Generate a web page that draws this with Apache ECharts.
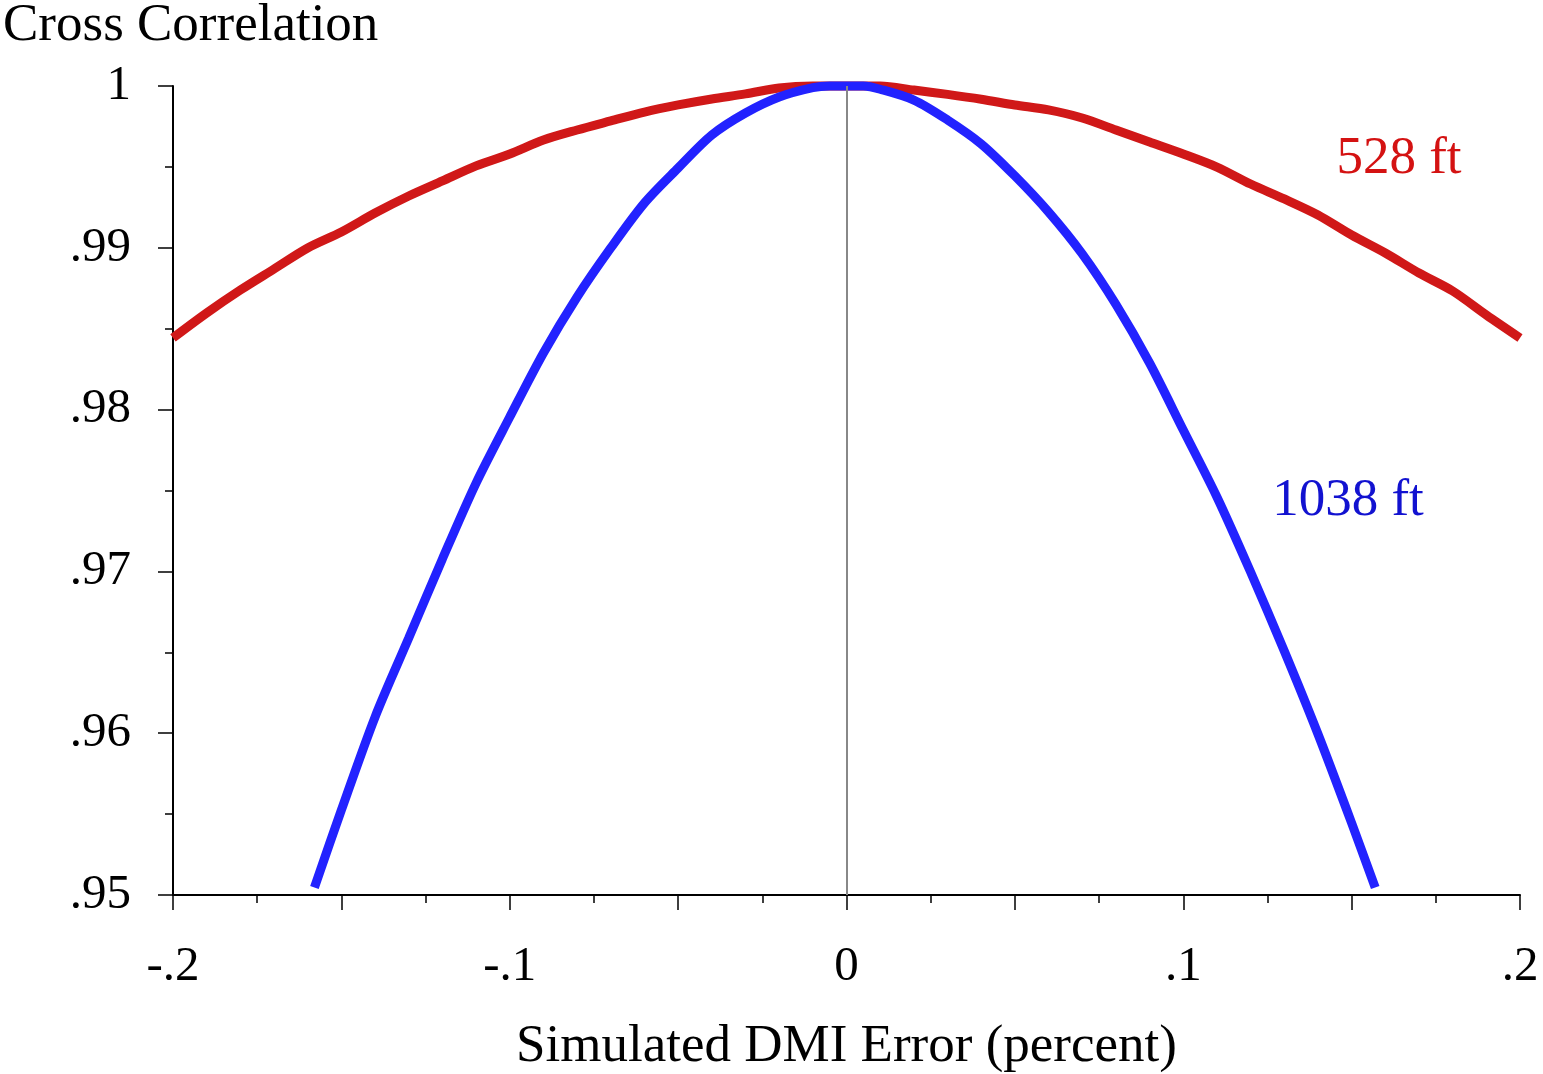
<!DOCTYPE html>
<html>
<head>
<meta charset="utf-8">
<script src="https://cdn.jsdelivr.net/npm/echarts@6/dist/echarts.min.js"></script>
<style>
html,body{margin:0;padding:0;background:#fff;}
#chart{width:1543px;height:1074px;}
</style>
</head>
<body>
<div id="chart"></div>
<script>
// ---- data ----
const xRed = [-0.20,-0.19,-0.18,-0.17,-0.16,-0.15,-0.14,-0.13,-0.12,-0.11,-0.10,-0.09,-0.08,-0.07,-0.06,-0.05,-0.04,-0.03,-0.02,-0.01,
  0.00,0.01,0.02,0.03,0.04,0.05,0.06,0.07,0.08,0.09,0.10,0.11,0.12,0.13,0.14,0.15,0.16,0.17,0.18,0.19,0.20];
const yRed = [0.98443,0.98597,0.98739,0.98869,0.98999,0.99098,0.99215,0.99320,0.99413,0.99506,0.99580,0.99666,0.99728,0.99784,0.99839,0.99883,0.99920,0.99951,0.99988,1.00000,
  1.00000,1.00000,0.99975,0.99948,0.99918,0.99883,0.99852,0.99802,0.99728,0.99654,0.99580,0.99499,0.99394,0.99302,0.99203,0.99079,0.98968,0.98844,0.98733,0.98585,0.98443];
const xBlue = [-0.158,-0.15,-0.14,-0.13,-0.12,-0.11,-0.10,-0.09,-0.08,-0.07,-0.06,-0.05,-0.04,-0.03,-0.02,-0.01,-0.005,
  0.00,0.005,0.01,0.02,0.03,0.04,0.05,0.06,0.07,0.08,0.09,0.10,0.11,0.12,0.13,0.14,0.15,0.157];
const yBlue = [0.95046,0.95525,0.96100,0.96588,0.97077,0.97546,0.97954,0.98350,0.98696,0.98999,0.99277,0.99493,0.99697,0.99833,0.99932,0.99990,1.00000,
  1.00000,1.00000,0.99980,0.99913,0.99790,0.99642,0.99444,0.99221,0.98962,0.98650,0.98288,0.97874,0.97460,0.96996,0.96508,0.95995,0.95445,0.95046];
const seriesNames = ['528 ft', '1038 ft'];
const yTitle = 'Cross Correlation';
const xTitle = 'Simulated DMI Error (percent)';

const FONT = '"Liberation Serif", "Times New Roman", serif';
const RED = '#d01818';
const BLUE = '#2222ff';

function stripZero(v, digits) {
  let s = (+v.toFixed(digits)).toString();
  s = s.replace(/^(-?)0\./, '$1.');
  return s;
}

const chart = echarts.init(document.getElementById('chart'), null, {renderer: 'canvas'});
chart.setOption({
  animation: false,
  backgroundColor: '#ffffff',
  grid: {left: 173, right: 23, top: 86, bottom: 179, containLabel: false, outerBoundsMode: 'none'},
  xAxis: {
    type: 'value', min: -0.2, max: 0.2, interval: 0.05,
    name: xTitle, nameLocation: 'middle', nameGap: 126,
    nameTextStyle: {fontFamily: FONT, fontSize: 53, color: '#000'},
    axisLine: {show: true, onZero: false, lineStyle: {color: '#000', width: 2}},
    axisTick: {show: true, length: 15, lineStyle: {color: '#000', width: 1.5}},
    minorTick: {show: true, splitNumber: 2, length: 8, lineStyle: {color: '#000', width: 1.5}},
    splitLine: {show: false},
    axisLabel: {
      margin: 48, fontFamily: FONT, fontSize: 49, color: '#000',
      formatter: function (v) {
        const r = Math.round(v * 100);
        if (r % 10 !== 0) return '';
        return stripZero(v, 2);
      }
    }
  },
  yAxis: {
    type: 'value', min: 0.95, max: 1, interval: 0.01,
    axisLine: {show: true, onZero: false, lineStyle: {color: '#000', width: 2}},
    axisTick: {show: true, length: 15, lineStyle: {color: '#000', width: 1.5}},
    minorTick: {show: true, splitNumber: 2, length: 8, lineStyle: {color: '#000', width: 1.5}},
    splitLine: {show: false},
    axisLabel: {
      margin: 42, fontFamily: FONT, fontSize: 49, color: '#000',
      formatter: function (v) { return stripZero(v, 2); }
    }
  },
  graphic: [
    {type: 'text', silent: true, style: {text: yTitle, x: 3, y: 26, align: 'left', verticalAlign: 'middle', font: '53px ' + FONT, fill: '#000'}},
    {type: 'text', silent: true, style: {text: seriesNames[0], x: 1399, y: 159, align: 'center', verticalAlign: 'middle', font: '53px ' + FONT, fill: '#d41212'}},
    {type: 'text', silent: true, style: {text: seriesNames[1], x: 1348, y: 501, align: 'center', verticalAlign: 'middle', font: '53px ' + FONT, fill: '#1212d0'}}
  ],
  series: [
    {
      type: 'line', data: [], z: 1, silent: true,
      markLine: {
        silent: true, symbol: ['none', 'none'], label: {show: false},
        lineStyle: {color: '#888', width: 2, type: 'solid'},
        data: [{xAxis: 0}]
      }
    },
    {
      name: seriesNames[0], type: 'line', z: 3, clip: false, showSymbol: false, smooth: 0.3,
      lineStyle: {color: RED, width: 9},
      data: xRed.map((x, i) => [x, yRed[i]])
    },
    {
      name: seriesNames[1], type: 'line', z: 4, clip: false, showSymbol: false, smooth: 0.3,
      lineStyle: {color: BLUE, width: 9},
      data: xBlue.map((x, i) => [x, yBlue[i]])
    }
  ]
});
</script>
</body>
</html>
